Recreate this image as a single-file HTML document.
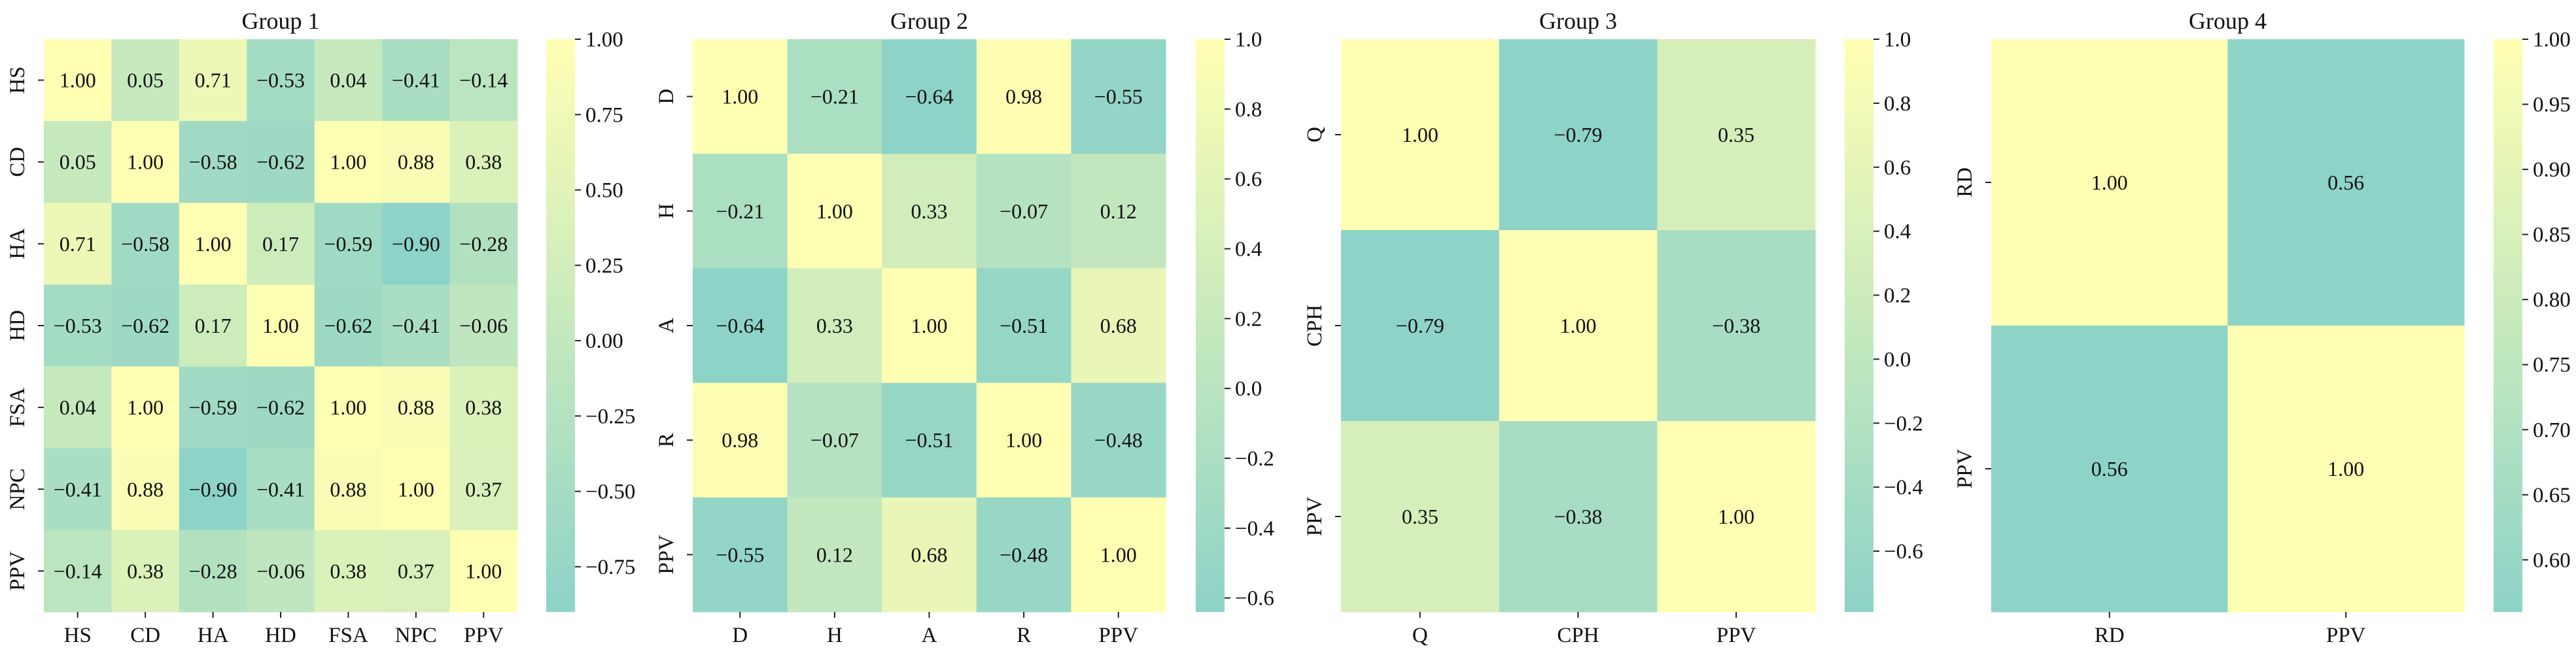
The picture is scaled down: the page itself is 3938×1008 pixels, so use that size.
<!DOCTYPE html>
<html><head><meta charset="utf-8"><style>
html,body{margin:0;padding:0;background:#fff;}
svg text{font-family:"Liberation Serif",serif;fill:#111;}
</style></head>
<body>
<svg id="fig" width="3938" height="1003" viewBox="0 0 3938 1003" xmlns="http://www.w3.org/2000/svg">
<defs><linearGradient id="cbg" x1="0" y1="1" x2="0" y2="0"><stop offset="0" stop-color="#8dd3c7"/><stop offset="1" stop-color="#ffffb3"/></linearGradient></defs>
</svg>
<script>
const g1Labels = ["HS","CD","HA","HD","FSA","NPC","PPV"];
const g1Values = [
 [1.00,0.05,0.71,-0.53,0.04,-0.41,-0.14],
 [0.05,1.00,-0.58,-0.62,1.00,0.88,0.38],
 [0.71,-0.58,1.00,0.17,-0.59,-0.90,-0.28],
 [-0.53,-0.62,0.17,1.00,-0.62,-0.41,-0.06],
 [0.04,1.00,-0.59,-0.62,1.00,0.88,0.38],
 [-0.41,0.88,-0.90,-0.41,0.88,1.00,0.37],
 [-0.14,0.38,-0.28,-0.06,0.38,0.37,1.00]];
const g1Ticks = [1.00,0.75,0.50,0.25,0.00,-0.25,-0.50,-0.75];
const g2Labels = ["D","H","A","R","PPV"];
const g2Values = [
 [1.00,-0.21,-0.64,0.98,-0.55],
 [-0.21,1.00,0.33,-0.07,0.12],
 [-0.64,0.33,1.00,-0.51,0.68],
 [0.98,-0.07,-0.51,1.00,-0.48],
 [-0.55,0.12,0.68,-0.48,1.00]];
const g2Ticks = [1.0,0.8,0.6,0.4,0.2,0.0,-0.2,-0.4,-0.6];
const g3Labels = ["Q","CPH","PPV"];
const g3Values = [
 [1.00,-0.79,0.35],
 [-0.79,1.00,-0.38],
 [0.35,-0.38,1.00]];
const g3Ticks = [1.0,0.8,0.6,0.4,0.2,0.0,-0.2,-0.4,-0.6];
const g4Labels = ["RD","PPV"];
const g4Values = [[1.00,0.56],[0.56,1.00]];
const g4Ticks = [1.00,0.95,0.90,0.85,0.80,0.75,0.70,0.65,0.60];

const svg = document.getElementById('fig');
const NS = "http://www.w3.org/2000/svg";
function mk(tag, attrs){const e=document.createElementNS(NS,tag);for(const k in attrs)e.setAttribute(k,attrs[k]);svg.appendChild(e);return e;}
function color(t){t=Math.max(0,Math.min(1,t));
 const a=[141,211,199], b=[255,255,179];
 return `rgb(${a.map((v,i)=>Math.round(v+(b[i]-v)*t)).join(',')})`;}
function fmt(v,d){const s=Math.abs(v).toFixed(d);return (v<0?'\u2212':'')+s;}
const TOP=60, BOT=936;
const panels = [
 {title:"Group 1", labels:g1Labels, values:g1Values, ticks:g1Ticks, dec:2, x0:67, x1:791, cb0:835},
 {title:"Group 2", labels:g2Labels, values:g2Values, ticks:g2Ticks, dec:1, x0:1059, x1:1782, cb0:1828},
 {title:"Group 3", labels:g3Labels, values:g3Values, ticks:g3Ticks, dec:1, x0:2050, x1:2775, cb0:2820},
 {title:"Group 4", labels:g4Labels, values:g4Values, ticks:g4Ticks, dec:2, x0:3044, x1:3767, cb0:3812}];
panels.forEach((p,pi)=>{
 const n=p.labels.length, flat=p.values.flat();
 const vmin=Math.min(...flat), vmax=Math.max(...flat);
 const cw=(p.x1-p.x0)/n, ch=(BOT-TOP)/n;
 const xs=i=>p.x0+i*cw, ys=j=>TOP+j*ch;
 const t=mk('text',{x:(p.x0+p.x1)/2,y:44,'text-anchor':'middle','font-size':36});
 t.textContent=p.title;
 
 
 p.values.forEach((row,j)=>row.forEach((v,i)=>{
  const r=mk('rect',{x:xs(i),y:ys(j),width:cw+0.5,height:ch+0.5,fill:color((v-vmin)/(vmax-vmin))});
  
  
  const tx=mk('text',{x:xs(i)+cw/2,y:ys(j)+ch/2+11,'text-anchor':'middle','font-size':32,fill:'#222'});
  tx.textContent=fmt(v,2);
  
  
 }));
 p.labels.forEach((lab,i)=>{
  const cx=xs(i)+cw/2;
  mk('line',{x1:cx,x2:cx,y1:BOT,y2:BOT+9,stroke:'#222','stroke-width':2});
  const xl=mk('text',{x:cx,y:BOT+46,'text-anchor':'middle','font-size':33});
  xl.textContent=lab;
  
  
  const cy=ys(i)+ch/2;
  mk('line',{x1:p.x0-9,x2:p.x0,y1:cy,y2:cy,stroke:'#222','stroke-width':2});
  const yl=mk('text',{x:0,y:0,'text-anchor':'middle','font-size':33,transform:`translate(${p.x0-30},${cy}) rotate(-90)`});
  yl.textContent=lab;
  
  
 });
 const cb=mk('rect',{x:p.cb0,y:TOP,width:44,height:BOT-TOP,fill:'url(#cbg)'});
 
 
 p.ticks.forEach(v=>{
  const y=BOT-(v-vmin)/(vmax-vmin)*(BOT-TOP);
  mk('line',{x1:p.cb0+44,x2:p.cb0+53,y1:y,y2:y,stroke:'#222','stroke-width':2});
  const tl=mk('text',{x:p.cb0+60,y:y+11,'font-size':33});
  tl.textContent=fmt(v,p.dec);
  
  
 });
});
</script>
</body></html>
